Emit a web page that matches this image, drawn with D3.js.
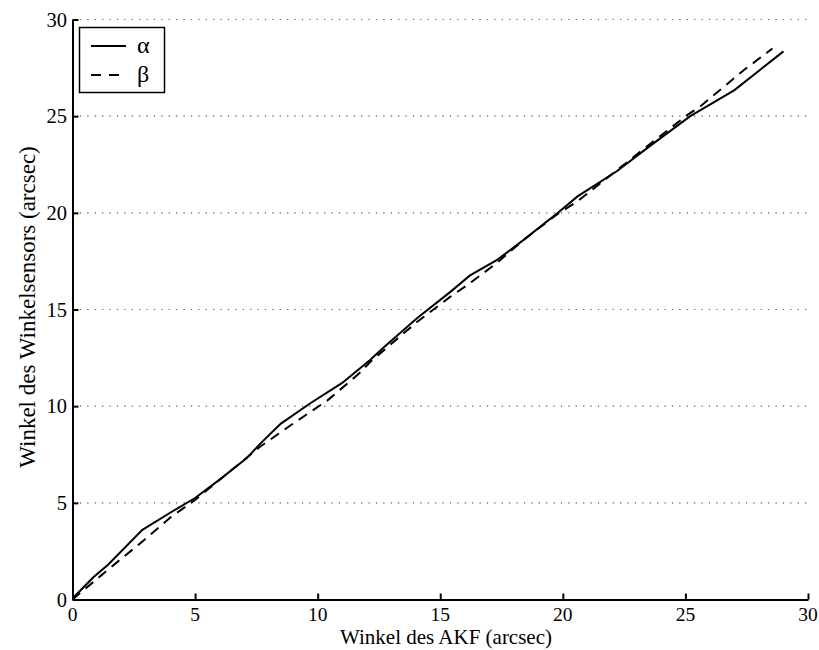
<!DOCTYPE html>
<html>
<head>
<meta charset="utf-8">
<script src="https://d3js.org/d3.v7.min.js"></script>
<style>
body { margin: 0; background: #fff; }
svg { display: block; }
svg text { font-family: 'Liberation Serif', 'Times New Roman', Times, serif; fill: #000; }
</style>
</head>
<body>
<div id="plot"></div>
<script>

var width = 819;
var height = 650;

// data
var alphaX = [0, 0.85, 1.45, 2.85, 4.0, 5.0, 6.0, 7.1, 7.65, 8.5, 9.7, 11.0, 12.15, 12.7, 14.05, 15.4, 16.2, 17.3, 18.4, 19.8, 20.6, 22.2, 23.6, 25.2, 27.0, 29.0];
var alphaY = [0.05, 1.15, 1.8, 3.6, 4.5, 5.25, 6.2, 7.3, 8.05, 9.1, 10.15, 11.2, 12.4, 13.05, 14.55, 15.9, 16.75, 17.55, 18.6, 20.0, 20.85, 22.15, 23.5, 25.0, 26.35, 28.35];
var betaX = [0, 1.5, 2.9, 4.0, 5.0, 7.65, 9.0, 10.4, 11.7, 12.15, 14.05, 15.4, 16.2, 17.3, 18.4, 19.8, 20.6, 22.2, 23.8, 25.1, 25.6, 27.4, 28.55];
var betaY = [0, 1.6, 3.05, 4.25, 5.15, 7.9, 9.1, 10.3, 11.7, 12.3, 14.35, 15.65, 16.35, 17.4, 18.6, 19.95, 20.6, 22.2, 23.8, 25.08, 25.5, 27.4, 28.5];
var ticks = [0, 5, 10, 15, 20, 25, 30];
var legendLabels = ["\u03b1", "\u03b2"];

var svg = d3.select("#plot").append("svg")
  .attr("width", width).attr("height", height);

var xScale = d3.scaleLinear().domain([0, 30]).range([72.5, 808]);
var yScale = d3.scaleLinear().domain([0, 30]).range([599.5, 19.5]);

// dotted horizontal grid
svg.append("g").selectAll("line").data(ticks.slice(1)).enter().append("line")
  .attr("x1", xScale(0)).attr("x2", xScale(30))
  .attr("y1", function(d) { return yScale(d); })
  .attr("y2", function(d) { return yScale(d); })
  .style("stroke", "#555").style("stroke-width", 1.2)
  .style("stroke-dasharray", "1.2,6.2");

// axes, ticks pointing inward
var xAxis = d3.axisTop(xScale).tickValues(ticks).tickSize(6).tickSizeOuter(0).tickFormat("");
svg.append("g").attr("transform", "translate(0," + yScale(0) + ")").call(xAxis)
  .call(function(g) { g.selectAll("path, line").style("stroke", "#000").style("stroke-width", 2); });

var yAxis = d3.axisRight(yScale).tickValues(ticks).tickSize(6).tickSizeOuter(0).tickFormat("");
svg.append("g").attr("transform", "translate(" + xScale(0) + ",0)").call(yAxis)
  .call(function(g) { g.selectAll("path, line").style("stroke", "#000").style("stroke-width", 2); });

// tick labels
svg.append("g").selectAll("text").data(ticks).enter().append("text")
  .attr("x", function(d) { return xScale(d); })
  .attr("y", 620.5)
  .attr("text-anchor", "middle")
  .style("font-size", "19.5px")
  .text(function(d) { return d; });

svg.append("g").selectAll("text").data(ticks).enter().append("text")
  .attr("x", 67)
  .attr("y", function(d) { return yScale(d) + 7; })
  .attr("text-anchor", "end")
  .style("font-size", "20.5px")
  .text(function(d) { return d; });

// axis titles
svg.append("text")
  .attr("x", 446).attr("y", 644)
  .attr("text-anchor", "middle")
  .style("font-size", "21px")
  .text("Winkel des AKF (arcsec)");

svg.append("text")
  .attr("transform", "translate(35,307) rotate(-90)")
  .attr("text-anchor", "middle")
  .style("font-size", "23px")
  .text("Winkel des Winkelsensors (arcsec)");

// curves
var line = d3.line()
  .x(function(d) { return xScale(d[0]); })
  .y(function(d) { return yScale(d[1]); });

var alpha = d3.zip(alphaX, alphaY);
var beta = d3.zip(betaX, betaY);

svg.append("path").datum(beta).attr("d", line)
  .style("fill", "none").style("stroke", "#000").style("stroke-width", 2)
  .style("stroke-dasharray", "10,7");

svg.append("path").datum(alpha).attr("d", line)
  .style("fill", "none").style("stroke", "#000").style("stroke-width", 2);

// legend
var legend = svg.append("g");
legend.append("rect")
  .attr("x", 79.5).attr("y", 27.5).attr("width", 85).attr("height", 65)
  .style("fill", "#fff").style("stroke", "#000").style("stroke-width", 1.5);

var dashes = [null, "10,8"];
legendLabels.forEach(function(lab, i) {
  var y = 46 + i * 29;
  legend.append("line")
    .attr("x1", 91).attr("x2", 126).attr("y1", y).attr("y2", y)
    .style("stroke", "#000").style("stroke-width", 2)
    .style("stroke-dasharray", dashes[i]);
  legend.append("text")
    .attr("x", 137).attr("y", y + 7)
    .style("font-size", "24px")
    .text(lab);
});

</script>
</body>
</html>
